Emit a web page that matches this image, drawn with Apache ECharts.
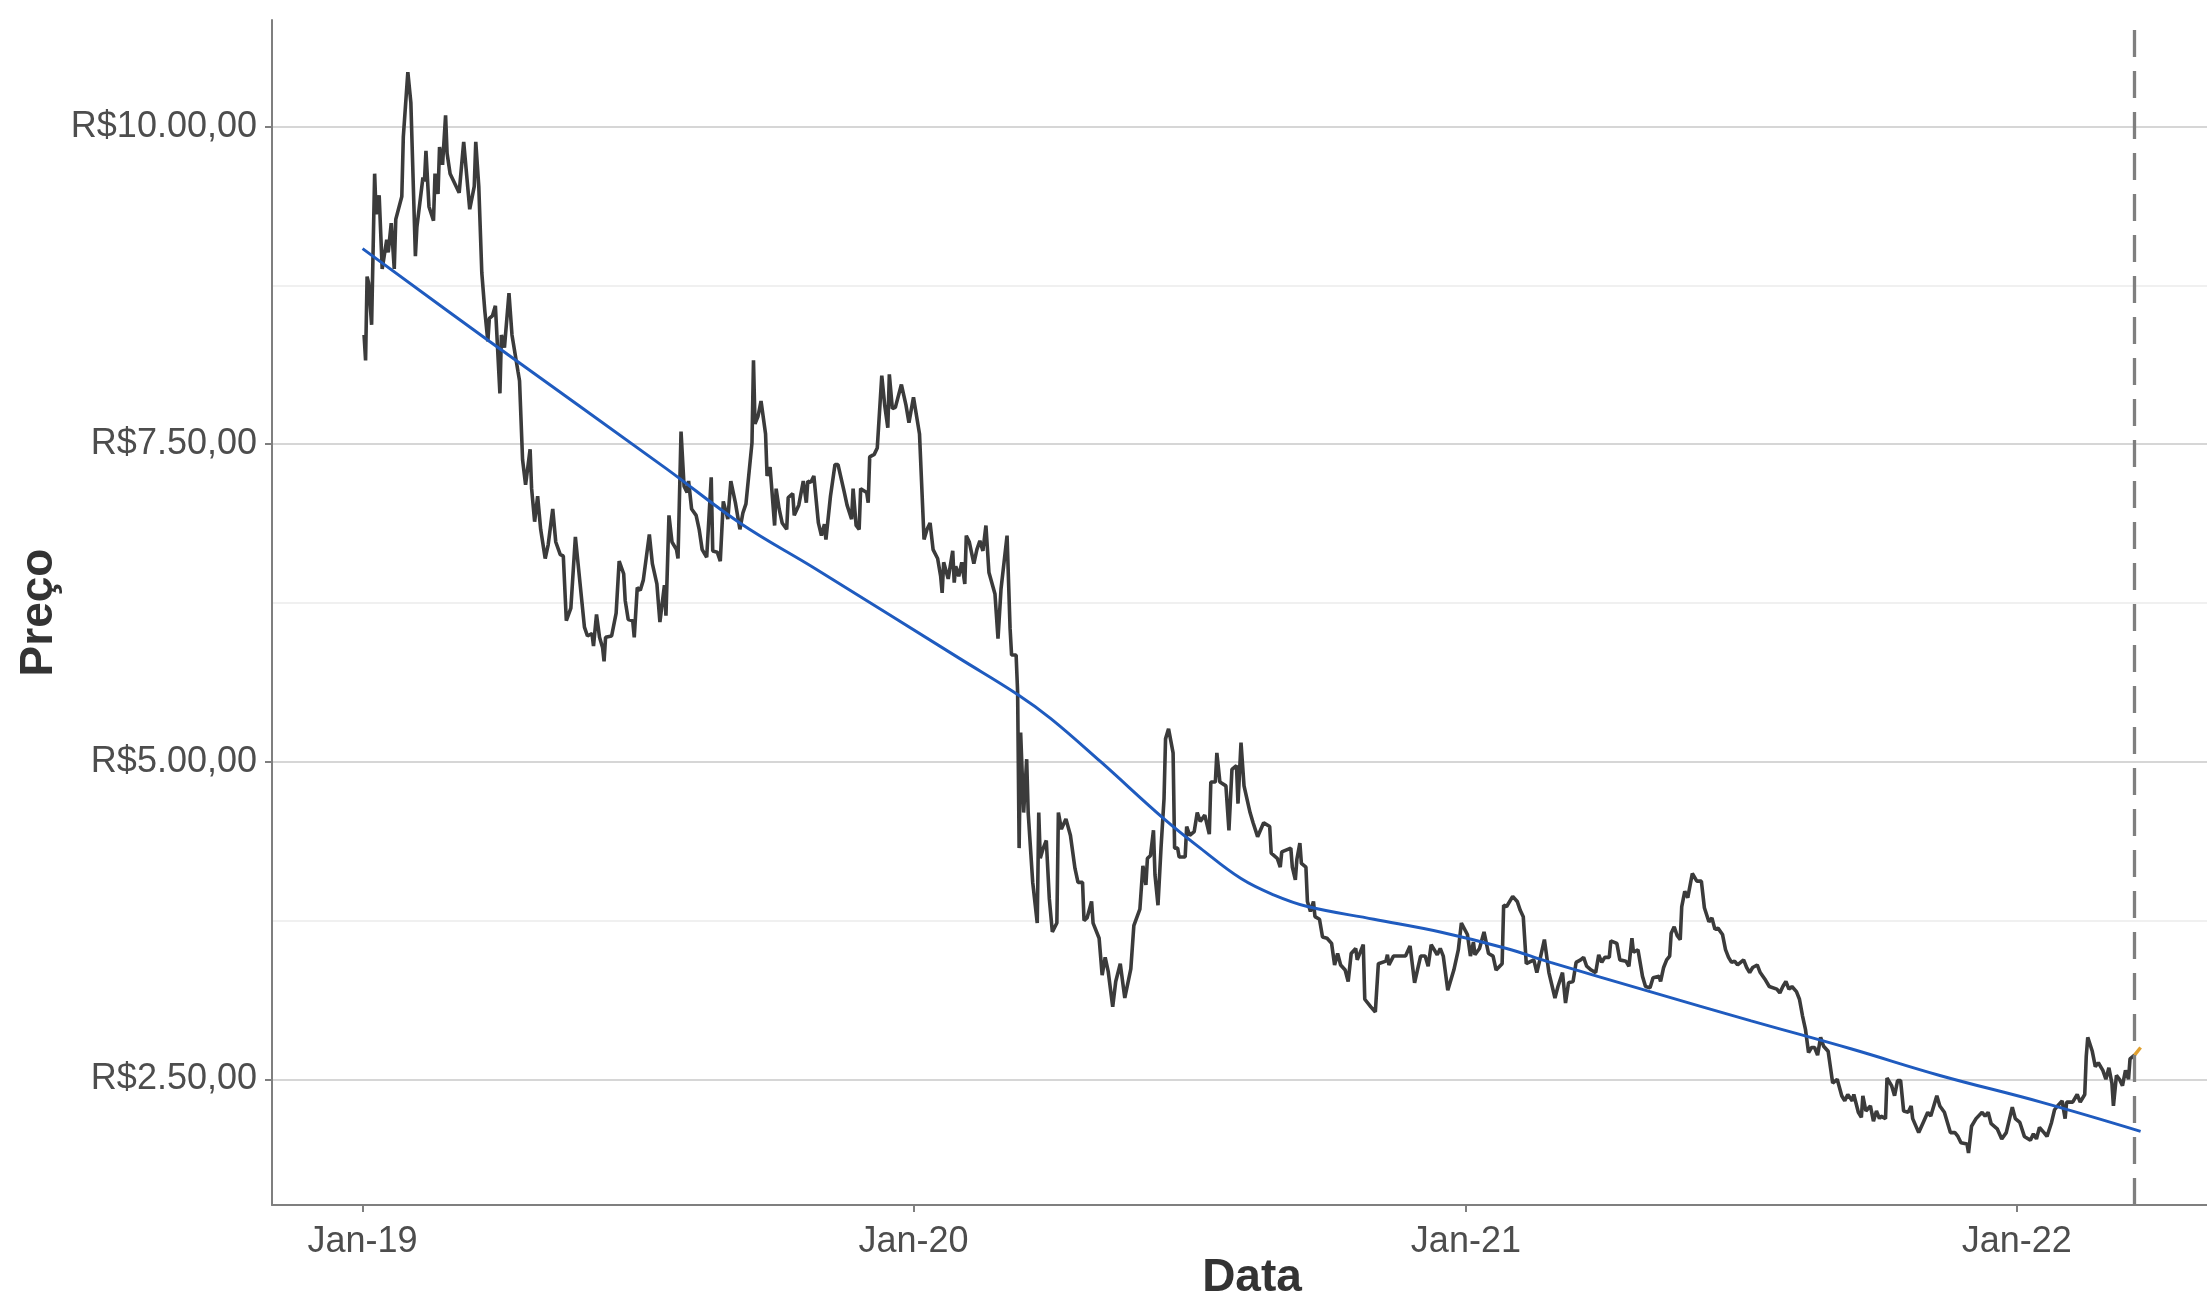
<!DOCTYPE html>
<html><head><meta charset="utf-8">
<script src="https://cdn.jsdelivr.net/npm/echarts@6/dist/echarts.min.js"></script>
<style>html,body{margin:0;padding:0;background:#fff}#c{width:2207px;height:1294px}</style>
</head><body><div id="c"></div>
<script>
const dates = [
'2019-01-02','2019-01-03','2019-01-04','2019-01-05','2019-01-07','2019-01-09','2019-01-10','2019-01-12','2019-01-14','2019-01-17',
'2019-01-18','2019-01-20','2019-01-22','2019-01-23','2019-01-27','2019-01-28','2019-01-31','2019-02-02','2019-02-05','2019-02-06',
'2019-02-10','2019-02-11','2019-02-12','2019-02-14','2019-02-17','2019-02-18','2019-02-20','2019-02-21','2019-02-23','2019-02-25',
'2019-02-26','2019-02-28','2019-03-06','2019-03-09','2019-03-13','2019-03-16','2019-03-17','2019-03-19','2019-03-21','2019-03-23',
'2019-03-25','2019-03-26','2019-03-28','2019-03-30','2019-04-02','2019-04-03','2019-04-05','2019-04-08','2019-04-10','2019-04-14',
'2019-04-15','2019-04-17','2019-04-19','2019-04-22','2019-04-23','2019-04-25','2019-04-27','2019-04-29','2019-05-02','2019-05-04',
'2019-05-07','2019-05-09','2019-05-12','2019-05-14','2019-05-16','2019-05-19','2019-05-22','2019-05-28','2019-05-30','2019-06-02',
'2019-06-03','2019-06-05','2019-06-07','2019-06-09','2019-06-10','2019-06-11','2019-06-15','2019-06-18','2019-06-20','2019-06-23',
'2019-06-24','2019-06-26','2019-06-29','2019-06-30','2019-07-02','2019-07-04','2019-07-06','2019-07-10','2019-07-12','2019-07-15',
'2019-07-17','2019-07-20','2019-07-21','2019-07-23','2019-07-25','2019-07-28','2019-07-29','2019-07-31','2019-08-02','2019-08-04',
'2019-08-05','2019-08-07','2019-08-10','2019-08-12','2019-08-14','2019-08-17','2019-08-20','2019-08-21','2019-08-24','2019-08-26',
'2019-08-28','2019-08-31','2019-09-02','2019-09-05','2019-09-08','2019-09-10','2019-09-12','2019-09-16','2019-09-17','2019-09-18',
'2019-09-20','2019-09-22','2019-09-25','2019-09-26','2019-09-28','2019-10-01','2019-10-02','2019-10-04','2019-10-06','2019-10-09',
'2019-10-10','2019-10-13','2019-10-14','2019-10-17','2019-10-20','2019-10-22','2019-10-23','2019-10-25','2019-10-27','2019-10-30',
'2019-11-01','2019-11-03','2019-11-04','2019-11-07','2019-11-10','2019-11-12','2019-11-16','2019-11-18','2019-11-21','2019-11-22',
'2019-11-24','2019-11-26','2019-11-27','2019-12-01','2019-12-02','2019-12-03','2019-12-06','2019-12-08','2019-12-09','2019-12-11',
'2019-12-13','2019-12-15','2019-12-16','2019-12-18','2019-12-20','2019-12-24','2019-12-27','2019-12-29','2020-01-01','2020-01-05',
'2020-01-08','2020-01-10','2020-01-12','2020-01-14','2020-01-17','2020-01-19','2020-01-20','2020-01-21','2020-01-24','2020-01-27',
'2020-01-28','2020-01-29','2020-01-31','2020-02-02','2020-02-04','2020-02-05','2020-02-07','2020-02-10','2020-02-12','2020-02-14',
'2020-02-16','2020-02-18','2020-02-20','2020-02-24','2020-02-26','2020-02-28','2020-03-01','2020-03-03','2020-03-05','2020-03-06',
'2020-03-09','2020-03-10','2020-03-11','2020-03-12','2020-03-14','2020-03-16','2020-03-17','2020-03-20','2020-03-23','2020-03-24',
'2020-03-25','2020-03-27','2020-03-29','2020-03-31','2020-04-02','2020-04-05','2020-04-06','2020-04-08','2020-04-11','2020-04-14',
'2020-04-17','2020-04-19','2020-04-22','2020-04-23','2020-04-25','2020-04-28','2020-04-29','2020-05-03','2020-05-05','2020-05-07',
'2020-05-09','2020-05-12','2020-05-14','2020-05-17','2020-05-20','2020-05-24','2020-05-26','2020-05-30','2020-06-01','2020-06-03',
'2020-06-04','2020-06-06','2020-06-08','2020-06-09','2020-06-11','2020-06-13','2020-06-15','2020-06-16','2020-06-18','2020-06-21',
'2020-06-22','2020-06-24','2020-06-25','2020-06-29','2020-06-30','2020-07-02','2020-07-05','2020-07-07','2020-07-09','2020-07-12',
'2020-07-15','2020-07-16','2020-07-19','2020-07-20','2020-07-22','2020-07-26','2020-07-28','2020-07-30','2020-08-02','2020-08-03',
'2020-08-05','2020-08-07','2020-08-11','2020-08-13','2020-08-16','2020-08-20','2020-08-24','2020-08-25','2020-08-29','2020-08-31',
'2020-09-01','2020-09-07','2020-09-08','2020-09-10','2020-09-11','2020-09-13','2020-09-14','2020-09-17','2020-09-18','2020-09-20',
'2020-09-22','2020-09-23','2020-09-26','2020-09-28','2020-10-01','2020-10-04','2020-10-06','2020-10-08','2020-10-10','2020-10-13',
'2020-10-15','2020-10-17','2020-10-20','2020-10-21','2020-10-25','2020-10-26','2020-10-30','2020-11-02','2020-11-04','2020-11-09',
'2020-11-10','2020-11-11','2020-11-14','2020-11-18','2020-11-22','2020-11-25','2020-11-28','2020-12-02','2020-12-05','2020-12-07',
'2020-12-09','2020-12-13','2020-12-15','2020-12-17','2020-12-20','2020-12-24','2020-12-27','2020-12-29','2021-01-02','2021-01-04',
'2021-01-06','2021-01-07','2021-01-10','2021-01-13','2021-01-16','2021-01-19','2021-01-21','2021-01-25','2021-01-26','2021-01-28',
'2021-02-01','2021-02-04','2021-02-06','2021-02-08','2021-02-10','2021-02-15','2021-02-17','2021-02-19','2021-02-22','2021-02-25',
'2021-03-01','2021-03-03','2021-03-06','2021-03-08','2021-03-10','2021-03-13','2021-03-15','2021-03-18','2021-03-20','2021-03-22',
'2021-03-25','2021-03-28','2021-03-30','2021-04-01','2021-04-03','2021-04-06','2021-04-07','2021-04-11','2021-04-13','2021-04-17',
'2021-04-19','2021-04-21','2021-04-22','2021-04-25','2021-04-28','2021-04-30','2021-05-03','2021-05-05','2021-05-09','2021-05-10',
'2021-05-12','2021-05-14','2021-05-16','2021-05-17','2021-05-19','2021-05-21','2021-05-23','2021-05-24','2021-05-26','2021-05-28',
'2021-05-31','2021-06-03','2021-06-06','2021-06-08','2021-06-11','2021-06-13','2021-06-15','2021-06-17','2021-06-20','2021-06-22',
'2021-06-24','2021-06-26','2021-06-28','2021-06-30','2021-07-04','2021-07-06','2021-07-08','2021-07-10','2021-07-13','2021-07-15',
'2021-07-18','2021-07-21','2021-07-26','2021-07-28','2021-07-30','2021-08-01','2021-08-03','2021-08-05','2021-08-08','2021-08-10',
'2021-08-12','2021-08-14','2021-08-16','2021-08-18','2021-08-20','2021-08-22','2021-08-24','2021-08-26','2021-08-29','2021-09-01',
'2021-09-04','2021-09-07','2021-09-09','2021-09-11','2021-09-14','2021-09-15','2021-09-18','2021-09-20','2021-09-21','2021-09-23',
'2021-09-26','2021-09-28','2021-09-30','2021-10-02','2021-10-03','2021-10-06','2021-10-07','2021-10-10','2021-10-12','2021-10-14',
'2021-10-16','2021-10-18','2021-10-21','2021-10-23','2021-10-24','2021-10-28','2021-10-31','2021-11-03','2021-11-05','2021-11-09',
'2021-11-11','2021-11-14','2021-11-18','2021-11-21','2021-11-23','2021-11-25','2021-11-29','2021-11-30','2021-12-02','2021-12-05',
'2021-12-09','2021-12-11','2021-12-13','2021-12-15','2021-12-19','2021-12-22','2021-12-25','2021-12-29','2021-12-31','2022-01-03',
'2022-01-06','2022-01-10','2022-01-12','2022-01-14','2022-01-16','2022-01-19','2022-01-21','2022-01-24','2022-01-26','2022-01-28',
'2022-01-31','2022-02-02','2022-02-03','2022-02-07','2022-02-10','2022-02-12','2022-02-15','2022-02-16','2022-02-17','2022-02-20',
'2022-02-22','2022-02-24','2022-02-27','2022-03-01','2022-03-03','2022-03-05','2022-03-06','2022-03-08','2022-03-10','2022-03-12',
'2022-03-14','2022-03-16','2022-03-17','2022-03-19','2022-03-20'
];
const prices = [
8.36,8.16,8.82,8.77,8.44,9.63,9.31,9.46,8.88,9.11,
9.01,9.24,8.88,9.27,9.45,9.92,10.43,10.19,8.98,9.21,
9.60,9.57,9.81,9.37,9.26,9.63,9.47,9.84,9.70,10.09,
9.79,9.63,9.48,9.88,9.35,9.53,9.88,9.53,8.85,8.55,
8.31,8.49,8.51,8.59,7.90,8.36,8.26,8.69,8.36,8.07,
8.00,7.38,7.18,7.46,7.15,6.89,7.09,6.83,6.60,6.71,
6.99,6.73,6.63,6.62,6.11,6.21,6.77,6.06,5.99,6.01,
5.91,6.16,5.98,5.90,5.79,5.98,5.99,6.17,6.58,6.48,
6.27,6.12,6.11,5.98,6.37,6.35,6.43,6.79,6.56,6.40,
6.10,6.39,6.15,6.94,6.73,6.67,6.60,7.60,7.17,7.12,
7.21,6.99,6.94,6.83,6.67,6.61,7.24,6.66,6.65,6.58,
7.05,6.91,7.21,7.04,6.83,6.96,7.03,7.51,8.16,7.66,
7.72,7.84,7.58,7.25,7.32,6.86,7.15,6.99,6.88,6.83,
7.08,7.11,6.94,7.02,7.21,7.04,7.21,7.20,7.25,6.88,
6.78,6.87,6.75,7.09,7.34,7.34,7.13,7.02,6.91,7.15,
6.86,6.83,7.15,7.12,7.04,7.40,7.42,7.47,7.47,8.04,
7.80,7.63,8.05,7.78,7.79,7.97,7.81,7.67,7.87,7.58,
6.75,6.83,6.88,6.67,6.60,6.46,6.33,6.57,6.44,6.66,
6.41,6.54,6.46,6.57,6.40,6.78,6.73,6.56,6.67,6.74,
6.66,6.86,6.49,6.32,5.97,6.36,6.57,6.78,6.05,5.84,
5.84,5.55,4.32,5.23,4.60,5.02,4.60,4.05,3.73,4.60,
4.24,4.32,4.38,3.92,3.66,3.73,4.60,4.47,4.55,4.42,
4.16,4.05,4.05,3.75,3.77,3.90,3.73,3.61,3.32,3.46,
3.35,3.07,3.27,3.41,3.14,3.37,3.71,3.84,4.18,4.03,
4.24,4.26,4.46,4.11,3.87,4.32,4.71,5.18,5.26,5.07,
4.32,4.32,4.25,4.25,4.49,4.42,4.45,4.60,4.53,4.58,
4.43,4.84,4.84,5.07,4.84,4.81,4.46,4.94,4.97,4.67,
5.15,4.81,4.60,4.52,4.41,4.52,4.49,4.28,4.24,4.17,
4.29,4.32,4.17,4.07,4.23,4.36,4.20,4.17,3.90,3.82,
3.90,3.78,3.76,3.62,3.61,3.57,3.40,3.49,3.40,3.36,
3.27,3.49,3.53,3.44,3.56,3.13,3.07,3.03,3.41,3.43,
3.48,3.40,3.47,3.47,3.47,3.55,3.26,3.47,3.47,3.39,
3.56,3.48,3.53,3.47,3.20,3.36,3.52,3.73,3.64,3.47,
3.58,3.48,3.53,3.66,3.49,3.47,3.36,3.41,3.87,3.86,
3.94,3.90,3.83,3.78,3.41,3.44,3.34,3.44,3.60,3.34,
3.14,3.23,3.34,3.10,3.26,3.27,3.42,3.44,3.46,3.39,
3.36,3.34,3.48,3.42,3.46,3.46,3.59,3.57,3.44,3.43,
3.39,3.61,3.50,3.52,3.31,3.23,3.22,3.30,3.31,3.27,
3.38,3.44,3.47,3.65,3.70,3.63,3.60,3.86,3.98,3.93,
4.12,4.06,4.06,3.85,3.74,3.77,3.68,3.69,3.64,3.52,
3.46,3.42,3.43,3.40,3.44,3.38,3.34,3.38,3.40,3.34,
3.29,3.23,3.21,3.18,3.23,3.27,3.21,3.23,3.19,3.13,
3.00,2.89,2.71,2.75,2.75,2.69,2.83,2.76,2.72,2.47,
2.50,2.37,2.33,2.38,2.33,2.38,2.24,2.20,2.37,2.25,
2.29,2.17,2.25,2.19,2.21,2.19,2.51,2.45,2.37,2.49,
2.49,2.25,2.24,2.29,2.19,2.08,2.16,2.24,2.21,2.37,
2.29,2.24,2.08,2.08,2.05,2.00,1.99,1.92,2.13,2.19,
2.24,2.21,2.24,2.15,2.11,2.03,2.08,2.28,2.19,2.16,
2.05,2.02,2.07,2.03,2.12,2.08,2.05,2.16,2.26,2.29,
2.33,2.19,2.32,2.32,2.38,2.32,2.38,2.68,2.83,2.72,
2.60,2.63,2.57,2.50,2.59,2.47,2.29,2.53,2.50,2.45,
2.57,2.50,2.66,2.68,2.69
];
const trendDates = ['2019-01-01','2019-03-26','2019-07-21','2019-09-08','2019-10-28','2020-02-01','2020-03-10','2020-04-01','2020-05-04','2020-06-15','2020-07-09','2020-08-05','2020-08-27','2020-09-18','2020-11-01','2020-12-15','2021-01-28','2021-02-26','2021-05-03','2021-07-09','2021-09-13','2021-11-11','2022-01-17','2022-03-24'];
const trendValues = [9.04,8.31,7.31,6.88,6.52,5.81,5.53,5.34,5.00,4.55,4.32,4.08,3.95,3.86,3.76,3.66,3.53,3.42,3.19,2.96,2.74,2.53,2.32,2.09];
const forecastDates = ['2022-03-20','2022-03-24'];
const forecastValues = [2.69, 2.75];
const cutoffDate = '2022-03-20';
const xRange = ['2018-11-02', '2022-05-07'];
const yRange = [1.51, 10.84];
const yTicks = [2.5, 5, 7.5, 10];
const yTickLabels = ['R$2.50,00', 'R$5.00,00', 'R$7.50,00', 'R$10.00,00'];
const yMinorTicks = [3.75, 6.25, 8.75];
const xTickDates = ['2019-01-01', '2020-01-01', '2021-01-01', '2022-01-01'];
const xTickLabels = ['Jan-19', 'Jan-20', 'Jan-21', 'Jan-22'];

const ts = d => new Date(d + 'T00:00:00').getTime();
const xTickValues = xTickDates.map(ts);
const FONT = 'Liberation Sans, Arial, sans-serif';
const axisColor = '#7f7f7f';
const labelColor = '#4d4d4d';

const chart = echarts.init(document.getElementById('c'), null, {renderer: 'canvas'});
chart.setOption({
  animation: false,
  backgroundColor: '#ffffff',
  grid: {left: 272, right: 0, top: 20, bottom: 89, containLabel: false, outerBoundsMode: 'none'},
  xAxis: {
    type: 'value', min: ts(xRange[0]), max: ts(xRange[1]),
    axisLine: {show: true, lineStyle: {color: axisColor, width: 2}},
    axisTick: {show: true, customValues: xTickValues, length: 7, lineStyle: {color: axisColor, width: 2}},
    axisLabel: {
      customValues: xTickValues, color: labelColor, fontSize: 36, fontFamily: FONT, margin: 19,
      showMinLabel: true, showMaxLabel: true,
      formatter: v => { let best = ''; xTickValues.forEach((t, i) => { if (Math.abs(t - v) < 864e5) best = xTickLabels[i]; }); return best; }
    },
    splitLine: {show: false},
    name: 'Data', nameLocation: 'middle', nameGap: 50, nameMoveOverlap: false,
    nameTextStyle: {fontSize: 46, fontWeight: 'bold', color: '#333333', fontFamily: FONT, padding: [0, 0, 0, 25]}
  },
  yAxis: [{
    type: 'value', min: yRange[0], max: yRange[1],
    axisLine: {show: true, lineStyle: {color: axisColor, width: 2}},
    axisTick: {show: true, customValues: yTicks, length: 7, lineStyle: {color: axisColor, width: 2}},
    axisLabel: {
      customValues: yTicks, color: labelColor, fontSize: 36, fontFamily: FONT, margin: 15, padding: [6, 0, 0, 0],
      formatter: v => { let best = ''; yTicks.forEach((t, i) => { if (Math.abs(t - v) < 1e-6) best = yTickLabels[i]; }); return best; }
    },
    splitLine: {show: true, lineStyle: {color: '#d6d6d6', width: 2.2}},
    name: 'Preço', nameLocation: 'middle', nameGap: 210, nameRotate: 90, nameMoveOverlap: false,
    nameTextStyle: {fontSize: 46, fontWeight: 'bold', color: '#333333', fontFamily: FONT}
  }, {
    type: 'value', min: yRange[0], max: yRange[1], position: 'left',
    axisLine: {show: false}, axisTick: {show: false, customValues: yMinorTicks},
    axisLabel: {show: false, customValues: yMinorTicks},
    splitLine: {show: true, lineStyle: {color: '#ebebeb', width: 1.6}}
  }],
  series: [{
    name: 'Preço', type: 'line', yAxisIndex: 0, symbol: 'none', showSymbol: false,
    data: dates.map((d, i) => [ts(d), prices[i]]),
    lineStyle: {color: '#3b3b3b', width: 3.6}, z: 2
  }, {
    name: 'Tendência', type: 'line', yAxisIndex: 0, symbol: 'none', showSymbol: false, smooth: 0.4,
    data: trendDates.map((d, i) => [ts(d), trendValues[i]]),
    lineStyle: {color: '#1f5bbf', width: 3}, z: 3
  }, {
    name: 'Previsão', type: 'line', yAxisIndex: 0, symbol: 'none', showSymbol: false,
    data: forecastDates.map((d, i) => [ts(d), forecastValues[i]]),
    lineStyle: {color: '#e0a030', width: 3.4}, z: 4,
    markLine: {
      silent: true, symbol: ['none', 'none'], label: {show: false}, animation: false,
      lineStyle: {color: '#7f7f7f', width: 3.3, type: [27, 14]},
      emphasis: {disabled: true},
      data: [{xAxis: ts(cutoffDate)}]
    }
  }]
});
</script></body></html>
